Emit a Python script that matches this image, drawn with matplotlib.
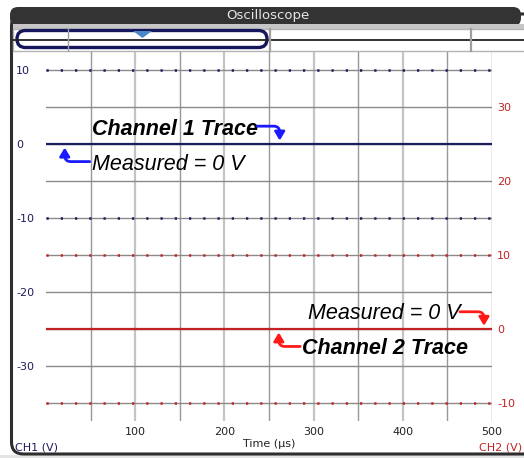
import numpy as np
import matplotlib
matplotlib.use("Agg")
import matplotlib.pyplot as plt
from matplotlib.patches import FancyBboxPatch, Rectangle, Polygon

# data
time_us = [0, 500]
ch1_volts = [0, 0]
ch2_volts = [0, 0]
x_ticks = [100, 200, 300, 400, 500]
ch1_ticks = [10, 0, -10, -20, -30]
ch2_ticks = [30, 20, 10, 0, -10]
ch1_range = (-37.5, 12.5)
ch2_range = (-12.5, 37.5)

NAVY = '#1c1c5e'
RED = '#c42222'

fig = plt.figure(figsize=(5.24, 4.58), dpi=100, facecolor='white')

# background panel in pixel units
bg = fig.add_axes([0, 0, 1, 1], zorder=0)
bg.set_xlim(0, 524)
bg.set_ylim(458, 0)
bg.axis('off')
bg.add_patch(Rectangle((0, 455), 524, 5, fc='#e4e4e4', ec='none'))
bg.add_patch(FancyBboxPatch((11.5, 14), 560, 440, boxstyle='round,pad=0,rounding_size=12',
                            fc='white', ec='#2e2e2e', lw=2.2))
bg.add_patch(FancyBboxPatch((10, 7), 511, 19, boxstyle='round,pad=0,rounding_size=8',
                            fc='#333333', ec='none'))
bg.add_patch(Rectangle((12.5, 24), 520, 5, fc='#c6c6c6', ec='none'))
bg.text(268, 15.5, 'Oscilloscope', color='#e6e6e6', fontsize=9.5, ha='center', va='center')

# slider
bg.add_patch(Rectangle((13, 28.5), 520, 22, fc='white', ec='#b4b4b4', lw=1))
bg.plot([13, 524], [39.5, 39.5], color='#222222', lw=1.3)
for sx, sw in [(68, 1.0), (270, 1.6), (471, 1.6)]:
    bg.plot([sx, sx], [28.5, 50.5], color='#a0a0a0', lw=sw)
bg.add_patch(FancyBboxPatch((17, 30.5), 250, 17, boxstyle='round,pad=0,rounding_size=8.5',
                            fc='none', ec='#16165c', lw=2.4))
bg.add_patch(Polygon([(133, 31), (152, 31), (142.5, 38)], closed=True, fc='#4a86c8', ec='none'))

bg.text(15, 447, 'CH1 (V)', color=NAVY, fontsize=8, ha='left', va='center')
bg.text(522, 447, 'CH2 (V)', color=RED, fontsize=8, ha='right', va='center')

# main axes
ax = fig.add_axes([46 / 524, 1 - 421 / 458, 446 / 524, 369 / 458], zorder=1)
ax.patch.set_alpha(0)
ax.set_xlim(0, 500)
ax.set_ylim(*ch1_range)
for s in ax.spines.values():
    s.set_visible(False)

# vertical grid
for gx in range(50, 501, 50):
    if gx % 100 == 0 and gx != 500:
        ax.axvline(gx, color='#c4c4c4', lw=1.6, zorder=1)
    else:
        ax.axvline(gx, color='#989898', lw=1.0, zorder=1)
# horizontal grid
for gy in range(-35, 11, 5):
    ax.axhline(gy, color='#8a8a8a', lw=1.0, zorder=1)

ax.set_xticks(x_ticks)
ax.set_xticklabels([str(v) for v in x_ticks])
ax.set_yticks(ch1_ticks)
ax.set_yticklabels([str(v) for v in ch1_ticks])
ax.tick_params(axis='x', length=0, pad=4, labelsize=8, labelcolor='#222222')
ax.tick_params(axis='y', length=0, pad=21.6, labelsize=8, labelcolor=NAVY)
for lab in ax.get_yticklabels():
    lab.set_ha('left')
ax.set_xlabel('Time (µs)', fontsize=8, color='#222222', labelpad=2)

DOTS = (0, (0.9, 4.8))

# ch1 dotted reference lines and trace
for ref in [ch1_ticks[0], ch1_ticks[2]]:
    ax.axhline(ref, color=NAVY, lw=1.8, linestyle=DOTS, zorder=2)
ax.plot(time_us, ch1_volts, color=NAVY, lw=1.6, zorder=3, solid_capstyle='butt')

ax2 = ax.twinx()
ax2.set_zorder(2)
ax2.set_ylim(*ch2_range)
for s in ax2.spines.values():
    s.set_visible(False)
ax2.set_yticks(ch2_ticks)
ax2.set_yticklabels([str(v) for v in ch2_ticks])
ax2.tick_params(axis='y', length=0, pad=3.6, labelsize=8, labelcolor=RED)
for ref in [ch2_ticks[2], ch2_ticks[4]]:
    ax2.axhline(ref, color=RED, lw=1.8, linestyle=DOTS, zorder=2)
ax2.plot(time_us, ch2_volts, color=RED, lw=1.6, zorder=3, solid_capstyle='butt')

# annotations (in ch1 units)
tfont = dict(family='Liberation Sans', fontsize=15.5, color='black')
ax.text(52, 2.0, 'Channel 1 Trace', fontweight='bold', style='italic', ha='left', va='center', **tfont)
ax.text(52, -2.8, 'Measured = 0 V', style='italic', ha='left', va='center', **tfont)
ax.text(294, -23.0, 'Measured = 0 V', style='italic', ha='left', va='center', **tfont)
ax.text(287, -27.7, 'Channel 2 Trace', fontweight='bold', style='italic', ha='left', va='center', **tfont)

def bent_arrow(start, end, color):
    ax.annotate('', xy=end, xytext=start, annotation_clip=False,
                arrowprops=dict(arrowstyle='-|>,head_length=0.5,head_width=0.3', color=color, lw=2,
                                shrinkA=0, shrinkB=0,
                                connectionstyle='angle,angleA=0,angleB=90,rad=6'), zorder=5)

bent_arrow((237, 2.45), (262, 0.5), '#1a1aff')
bent_arrow((49, -2.35), (21, -0.45), '#1a1aff')
bent_arrow((464, -22.7), (491, -24.6), '#ff1a1a')
bent_arrow((285, -27.4), (261, -25.5), '#ff1a1a')

fig.savefig('out.png', dpi=100, facecolor=fig.get_facecolor())
